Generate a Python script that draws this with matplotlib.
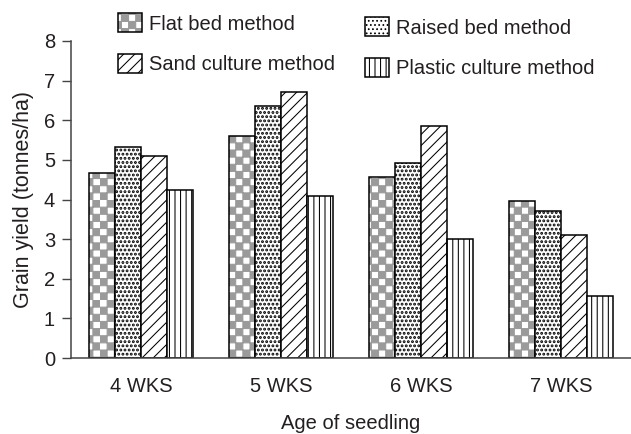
import numpy as np
import matplotlib
matplotlib.use("Agg")
import matplotlib.pyplot as plt
import matplotlib.hatch as mhatch
from matplotlib.path import Path
from matplotlib.patches import Rectangle
from matplotlib.legend_handler import HandlerTuple

ages = ["4 WKS", "5 WKS", "6 WKS", "7 WKS"]
flat_bed = [4.68, 5.60, 4.58, 3.96]
raised_bed = [5.32, 6.36, 4.92, 3.70]
sand_culture = [5.09, 6.71, 5.86, 3.10]
plastic_culture = [4.24, 4.08, 3.00, 1.57]
series_labels = ["Flat bed method", "Raised bed method",
                 "Sand culture method", "Plastic culture method"]


class CheckerHatch(mhatch.HatchPatternBase):
    """Filled checkerboard squares, triggered by 'c' in the hatch string."""
    n = 14

    def __init__(self, hatch, density):
        self.on = "c" in hatch
        self.num_vertices = (self.n * self.n // 2) * 5 if self.on else 0

    def set_vertices_and_codes(self, vertices, codes):
        s = 1.0 / self.n
        k = 0
        for i in range(self.n):
            for j in range(self.n):
                if (i + j) % 2:
                    continue
                x0, y0 = i * s, j * s
                vertices[k:k + 5] = [(x0, y0), (x0 + s, y0), (x0 + s, y0 + s),
                                     (x0, y0 + s), (x0, y0)]
                codes[k:k + 5] = [Path.MOVETO, Path.LINETO, Path.LINETO,
                                  Path.LINETO, Path.CLOSEPOLY]
                k += 5


mhatch._hatch_types.append(CheckerHatch)

plt.rcParams["font.family"] = ["Liberation Sans", "DejaVu Sans"]
plt.rcParams["hatch.linewidth"] = 0.75

text_col = "#231f20"
fs = 14.5

fig = plt.figure(figsize=(6.31, 4.34), dpi=100)
ax = fig.add_axes([71 / 631, 1 - 358 / 434, 560 / 631, 317 / 434])

x = np.arange(len(ages))
w = 0.186
offsets = [-1.5 * w, -0.5 * w, 0.5 * w, 1.5 * w]
edge_lw = 1.1
dot_lw = 1.4

# flat bed: gray checker underneath, black outline on top
ax.bar(x + offsets[0], flat_bed, w, facecolor="white", edgecolor="#9a9a9a",
       hatch="c", linewidth=0)
ax.bar(x + offsets[0], flat_bed, w, facecolor="none", edgecolor="black",
       linewidth=edge_lw)
dots = ax.bar(x + offsets[1], raised_bed, w, facecolor="white",
              edgecolor="black", hatch="....", linewidth=edge_lw)
for b in dots:
    b.set_hatch_linewidth(dot_lw)
ax.bar(x + offsets[2], sand_culture, w, facecolor="white", edgecolor="black",
       hatch="///", linewidth=edge_lw)
ax.bar(x + offsets[3], plastic_culture, w, facecolor="white", edgecolor="black",
       hatch="|||", linewidth=edge_lw)

ax.set_xlim(-0.5, 3.5)
ax.set_ylim(0, 8)
ax.set_yticks(range(0, 9))
ax.set_xticks(x)
ax.set_xticklabels(ages)
ax.spines["top"].set_visible(False)
ax.spines["right"].set_visible(False)
for s in ["left", "bottom"]:
    ax.spines[s].set_color("#444444")
    ax.spines[s].set_linewidth(1.1)
ax.tick_params(axis="y", length=6.5, width=1.0, color="#444444", pad=5,
               labelsize=fs, labelcolor=text_col)
ax.tick_params(axis="x", length=0, pad=14, labelsize=fs, labelcolor=text_col)

ax.set_ylabel("Grain yield (tonnes/ha)", fontsize=15.5, color=text_col)
ax.yaxis.set_label_coords(-0.066, 0.5)
ax.set_xlabel("Age of seedling", fontsize=fs, color=text_col)
ax.xaxis.set_label_coords(0.5, -0.176)

# legend handles
flat_h = (Rectangle((0, 0), 1, 1, facecolor="white", edgecolor="#9a9a9a",
                    hatch="c", linewidth=0),
          Rectangle((0, 0), 1, 1, facecolor="none", edgecolor="black",
                    linewidth=edge_lw))
raised_h = Rectangle((0, 0), 1, 1, facecolor="white", edgecolor="black",
                     hatch="....", linewidth=edge_lw)
raised_h.set_hatch_linewidth(dot_lw)
sand_h = Rectangle((0, 0), 1, 1, facecolor="white", edgecolor="black",
                   hatch="///", linewidth=edge_lw)
plastic_h = Rectangle((0, 0), 1, 1, facecolor="white", edgecolor="black",
                      hatch="|||", linewidth=edge_lw)

leg_kw = dict(loc="upper left", frameon=False, fontsize=fs, borderpad=0,
              borderaxespad=0, handlelength=1.2, handleheight=1.1,
              handletextpad=0.35, labelspacing=1.0, labelcolor=text_col,
              bbox_transform=fig.transFigure,
              handler_map={tuple: HandlerTuple(ndivide=1, pad=0)})
leg1 = fig.legend([flat_h, sand_h], [series_labels[0], series_labels[2]],
                  bbox_to_anchor=(118 / 631, 1 - 13 / 434), **leg_kw)
leg2 = fig.legend([raised_h, plastic_h], [series_labels[1], series_labels[3]],
                  bbox_to_anchor=(365 / 631, 1 - 17 / 434), **leg_kw)

fig.savefig("out.png", dpi=100)
